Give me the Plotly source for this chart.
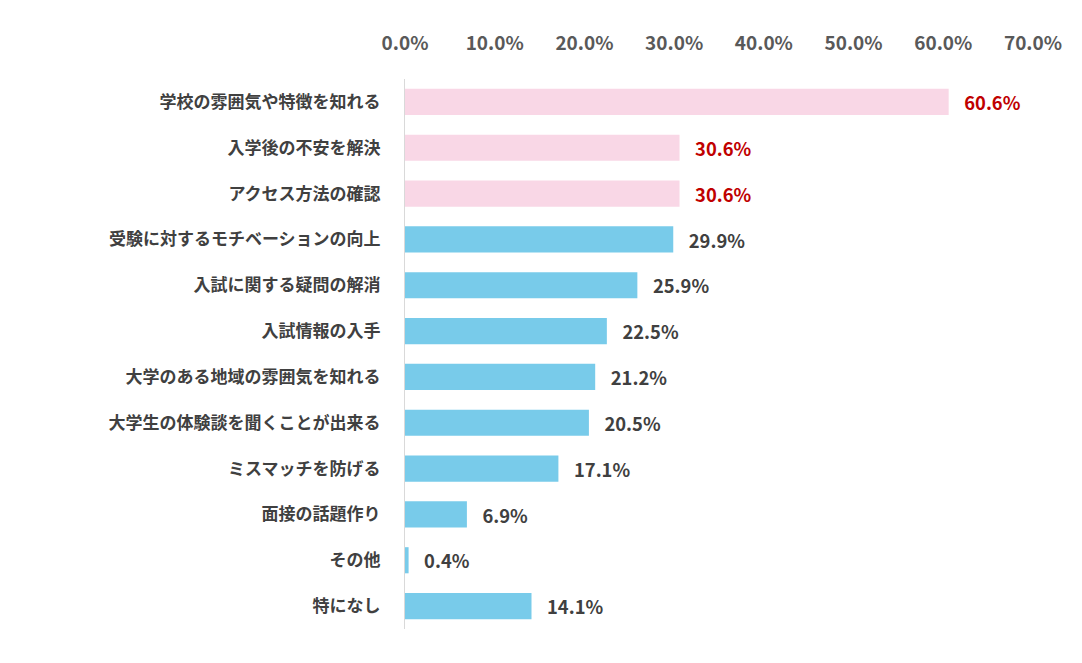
import plotly.graph_objects as go

categories = ["学校の雰囲気や特徴を知れる","入学後の不安を解決","アクセス方法の確認","受験に対するモチベーションの向上",
"入試に関する疑問の解消","入試情報の入手","大学のある地域の雰囲気を知れる","大学生の体験談を聞くことが出来る",
"ミスマッチを防げる","面接の話題作り","その他","特になし"]
values = [60.6,30.6,30.6,29.9,25.9,22.5,21.2,20.5,17.1,6.9,0.4,14.1]
tick_vals = [0,10,20,30,40,50,60,70]
tick_text = ["0.0%","10.0%","20.0%","30.0%","40.0%","50.0%","60.0%","70.0%"]

colors = ["#F9D7E6"]*3 + ["#78CBEA"]*9
lcolors = ["#C00000"]*3 + ["#404040"]*9
font = "Noto Sans CJK JP"

fig = go.Figure()
fig.add_trace(go.Bar(y=categories, x=values, orientation="h", marker=dict(color=colors, line=dict(width=0)),
    width=0.57, text=[f"   {v:.1f}%" for v in values], textposition="outside",
    textfont=dict(color=lcolors, size=19, family=font, weight="bold"), cliponaxis=False))
fig.update_layout(width=1082, height=663, plot_bgcolor="white", paper_bgcolor="white",
    margin=dict(l=397, r=57, t=71, b=42, autoexpand=False), showlegend=False, font=dict(family=font),
    xaxis=dict(side="top", range=[0,70], tickvals=tick_vals, ticktext=tick_text, showgrid=False, automargin=False,
        zeroline=False, tickfont=dict(size=19, color="#595959", weight="bold"), ticks="", ticklabelstandoff=24),
    yaxis=dict(categoryorder="array", categoryarray=categories[::-1], showline=True, linecolor="#D9D9D9", automargin=False,
        tickfont=dict(size=17, color="#404040", weight="bold"), ticks="", ticklabelstandoff=20))
fig.write_html("out.html")
